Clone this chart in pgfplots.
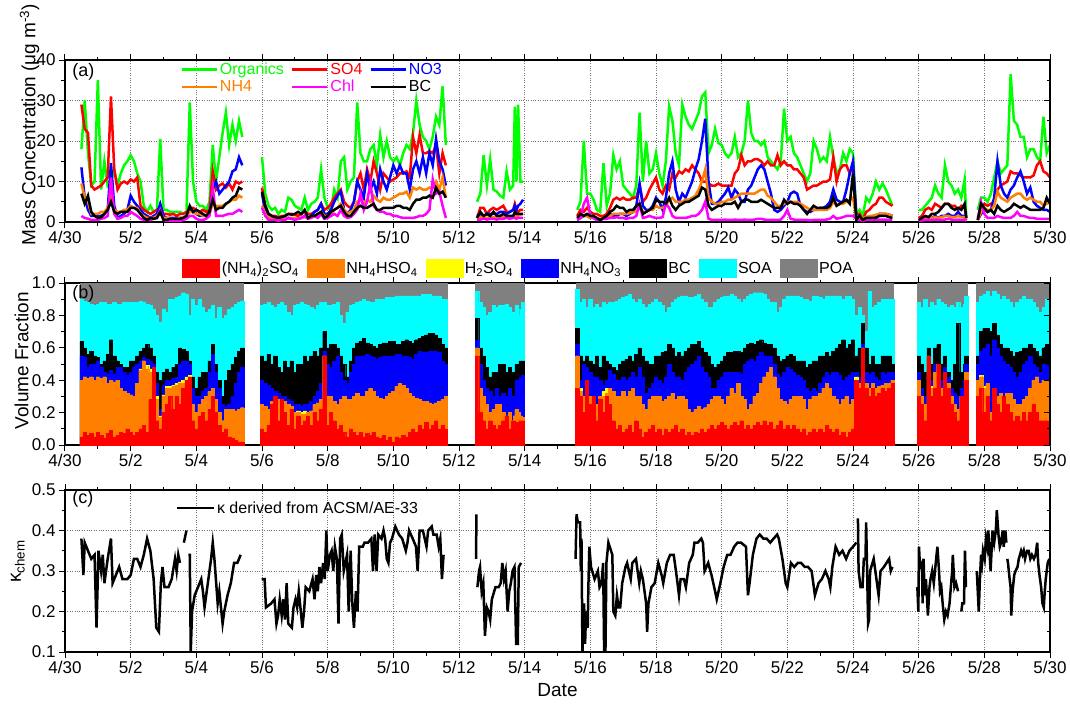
\documentclass[border=0pt]{standalone}
\usepackage{fontspec}
\setmainfont{Liberation Sans}
\usepackage{pgfplots}
\usepackage{pgfplotstable}
\pgfplotsset{compat=1.18}

\definecolor{cOrg}{RGB}{0,255,0}
\definecolor{cSO}{RGB}{255,0,0}
\definecolor{cNO}{RGB}{0,0,255}
\definecolor{cNH}{RGB}{255,128,0}
\definecolor{cChl}{RGB}{255,0,255}
\definecolor{cSA}{RGB}{255,255,0}
\definecolor{cSOA}{RGB}{0,255,255}
\definecolor{cPOA}{RGB}{128,128,128}

% t in days after 4/30 00:00; org..bc in ug/m3; c1..c6 cumulative volume fractions
% c1=(NH4)2SO4, c2=+NH4HSO4, c3=+H2SO4, c4=+NH4NO3, c5=+BC, c6=+SOA (POA fills to 1)
\pgfplotstableread{
t org so4 no3 nh4 chl bc c1 c2 c3 c4 c5 c6
0.5 18 29 13.5 9.5 1.5 7 .05 .40 .40 .55 .64 .90
0.6 30 23 6 6 1 4.5 .08 .42 .42 .54 .60 .89
0.7 17 22 3 5 0.8 6.5 .06 .41 .41 .48 .56 .88
0.8 9 9 1.5 2 0.5 2.5 .07 .42 .42 .50 .58 .87
0.9 10 8 1.5 2 0.5 1.5 .05 .40 .40 .50 .55 .86
1.0 35 8.5 1.5 2 0.5 1 .08 .42 .42 .52 .54 .87
1.1 8 9 1.5 2.5 0.8 1.2 .06 .41 .41 .48 .50 .88
1.2 15 10 2 2.5 1 2 .04 .42 .42 .45 .52 .88
1.3 9 11 3 3.5 1.5 3 .07 .38 .38 .44 .56 .87
1.4 10 31 14.5 6.5 11 5 .09 .40 .40 .46 .65 .87
1.5 13 13 4 3 2 2.5 .05 .39 .39 .44 .55 .88
1.6 9 8 1 2.5 0.8 2 .06 .40 .40 .48 .52 .87
1.7 12 9.5 1.5 2.5 1 2.5 .08 .35 .35 .48 .50 .87
1.8 14 10 2 3 1.5 2.5 .07 .33 .33 .45 .48 .88
1.9 15 9.5 3 3 1.5 2.5 .10 .32 .32 .43 .48 .88
2.0 16.5 10.5 6.5 4 2.5 3.5 .08 .31 .31 .45 .52 .88
2.1 15 10 5 3.5 2 3.5 .06 .30 .30 .48 .52 .88
2.2 12 11 4 3.5 1.5 3 .08 .38 .38 .50 .55 .88
2.3 10 4 3 2 0.8 2 .10 .46 .47 .52 .58 .89
2.4 4 3 2 1.5 0.5 1 .12 .52 .52 .54 .60 .88
2.5 2.5 2.5 1.5 1 0.5 0.5 .08 .47 .49 .53 .62 .87
2.6 4 2 1 1 0.5 1 .28 .45 .47 .52 .60 .86
2.7 2.5 2.5 1.5 1 0.8 0.8 .48 .48 .48 .50 .55 .84
2.8 3 3 2 1.5 1 1 .15 .28 .30 .38 .45 .80
2.9 20.5 3.5 4.5 2.5 3 2.5 .10 .17 .18 .22 .40 .76
3.0 3 2 1.5 1 0.5 0.5 .20 .30 .31 .37 .45 .84
3.1 3 2 1 1 0.3 0.5 .25 .35 .36 .40 .47 .82
3.2 2.5 1.8 1 0.8 0.3 0.8 .30 .35 .36 .40 .45 .90
3.3 2.5 2 1 0.8 0.3 0.8 .22 .36 .37 .41 .48 .90
3.4 2.5 1.5 1 0.8 0.3 0.8 .30 .37 .38 .42 .50 .91
3.5 2.5 2 1 1 0.3 0.8 .25 .38 .39 .50 .60 .92
3.6 2 2 1 1 0.5 1 .35 .38 .40 .52 .59 .94
3.7 2.5 2.5 1.5 1.5 0.8 1.5 .40 .40 .42 .52 .58 .93
3.8 29.5 3 3 2.5 1.5 4 .42 .42 .43 .50 .52 .80
3.9 10 3.5 2.5 2.5 1.5 2.5 .15 .25 .25 .35 .42 .90
4.0 5 3 2 2 0.8 3 .10 .20 .20 .30 .35 .86
4.1 4 2.5 1.5 2 0.5 2.5 .18 .25 .25 .30 .42 .90
4.2 4 3 1.5 1.5 0.5 2 .20 .28 .28 .33 .45 .85
4.3 3 2.5 1.5 1.5 0.8 1.5 .15 .30 .30 .35 .45 .82
4.4 5 3 2 2 1.5 2.5 .22 .33 .33 .45 .52 .84
4.5 19 12.5 8 4.5 8.5 5.5 .30 .35 .35 .56 .62 .86
4.6 10 8 10 4 1.5 3 .20 .28 .28 .45 .50 .78
4.7 16 9 7 4 1.5 3.5 .12 .20 .20 .35 .40 .85
4.8 22 9.5 8 4 1.5 3.5 .08 .15 .15 .25 .30 .78
4.9 27 8.5 9 4.5 1.8 4.5 .10 .22 .22 .24 .40 .80
5.0 19 9.5 10 5 2 5 .05 .22 .22 .25 .46 .84
5.1 24 8 12.5 5.5 2 6 .04 .22 .22 .30 .50 .85
5.2 20 10 13 5.5 2.5 6.5 .03 .21 .21 .38 .54 .87
5.3 25 9.5 16 6.5 3 8.5 .02 .22 .22 .45 .58 .88
5.4 21 10 14 6 2.5 8 .02 .23 .23 .48 .60 .89
5.7 nan nan nan nan nan nan nan nan nan nan nan nan
6.0 16 8.5 7 4 3.5 7.5 .10 .25 .25 .40 .55 .86
6.1 7 4 2.5 2 1.5 4 .08 .24 .24 .38 .52 .87
6.2 4 2 1 1 0.5 2 .12 .22 .22 .37 .56 .88
6.3 3 1.5 0.8 0.8 0.5 1.5 .25 .27 .27 .35 .50 .86
6.4 3.5 1.5 0.6 0.8 0.5 1.2 .30 .30 .30 .33 .55 .85
6.5 2 1.2 0.5 0.6 0.3 1 .15 .28 .28 .32 .48 .87
6.6 3 1.5 0.6 0.8 0.5 1.2 .28 .28 .28 .30 .45 .88
6.7 2.5 1.5 0.8 0.8 0.5 1.5 .20 .27 .27 .30 .52 .86
6.8 6 2 1 1 1 2 .12 .25 .25 .28 .48 .82
6.9 5.5 2 0.8 1 0.8 1.8 .22 .24 .24 .27 .52 .80
7.0 4 1.8 0.8 1 0.5 2 .10 .20 .20 .25 .45 .86
7.1 3.5 1.5 0.8 0.8 0.8 2.5 .18 .20 .21 .25 .50 .87
7.2 3 2 1 1 1 2 .12 .19 .20 .24 .50 .88
7.3 6 2.5 1.5 1.2 1.5 3 .15 .19 .21 .25 .55 .87
7.4 3 2 1 1 0.8 1 .18 .20 .20 .25 .52 .86
7.5 4.5 2 1.5 1.2 1 1.5 .12 .21 .21 .27 .55 .85
7.6 5 2.5 2.5 1.5 1.5 1.5 .20 .25 .25 .30 .58 .84
7.7 6 3 3 2 1 2 .15 .26 .26 .33 .55 .86
7.8 13 4.5 4.5 2.5 2 2.5 .22 .28 .28 .38 .60 .88
7.9 6 3 2 1.5 0.8 1 .55 .55 .55 .58 .70 .88
8.0 3.5 3.5 2 1.5 1 1.5 .12 .30 .30 .50 .60 .86
8.1 3 4.5 3 2 1.5 2.5 .20 .30 .30 .48 .62 .86
8.2 8 6 5 3 2 3 .15 .27 .27 .52 .62 .87
8.3 6 7 6.5 3.5 1.5 3.5 .10 .25 .25 .55 .60 .88
8.4 15 8 7.5 4.5 3 4 .12 .28 .28 .45 .55 .80
8.5 16 5 3 3 1.5 2.5 .08 .30 .30 .40 .50 .75
8.6 8 4 2 2 1 1.5 .05 .28 .28 .38 .42 .82
8.7 10 3.5 3 2.5 1.2 1.5 .10 .28 .28 .45 .52 .86
8.8 11 5 5 3 2 2.5 .08 .30 .30 .50 .60 .87
8.9 29.5 10 10 5 3 3.5 .06 .32 .32 .55 .63 .88
9.0 17 12 8 5.5 7 4 .08 .30 .30 .55 .64 .89
9.1 15 8 6 4.5 3 3.5 .05 .30 .30 .55 .66 .90
9.2 15 13 12 5.5 5 3.5 .07 .33 .33 .56 .63 .89
9.3 18 10 8 5 9.5 4 .06 .35 .35 .55 .62 .88
9.4 19 15 10 6.5 4 4.5 .08 .33 .33 .54 .61 .88
9.5 14 12 7 5.5 3 3 .05 .30 .30 .53 .60 .90
9.6 21.5 8 13 5 2.5 3 .04 .29 .29 .54 .62 .90
9.7 16 12 10 6 2.5 3.5 .06 .28 .28 .55 .63 .90
9.8 20 11 8 5.5 2 3.5 .03 .30 .30 .55 .63 .91
9.9 16 10 11 5.5 2 3.5 .05 .32 .32 .55 .64 .91
10.0 15 10.5 14 6 1.5 3.5 .02 .33 .33 .55 .64 .91
10.1 16 11 12 6.5 1.5 4 .05 .36 .36 .56 .62 .92
10.2 14 12 14 7 1.2 4 .04 .38 .38 .56 .62 .92
10.3 17 12 12 7 1 3.5 .06 .37 .37 .55 .64 .92
10.4 19 12.5 12 7.5 1 3.5 .05 .35 .35 .55 .65 .92
10.5 18 11 8 6 1 3 .08 .32 .32 .54 .64 .92
10.6 22 21 13 8.5 1 4.5 .10 .30 .30 .53 .63 .92
10.7 30 17 15 8 1.2 5.5 .08 .29 .29 .56 .65 .92
10.8 24 21.5 12 8.5 1.5 5.5 .12 .28 .28 .58 .66 .92
10.9 21 17 16 8 1.5 6 .10 .27 .27 .57 .67 .93
11.0 20 17 12 8 2 6 .14 .27 .27 .57 .68 .93
11.1 18 17.5 17 8.5 3 6.5 .10 .26 .26 .58 .69 .93
11.2 21 17 14 8.5 10.5 6 .12 .25 .25 .58 .69 .92
11.3 26 19 20.5 10 7 8.5 .15 .26 .26 .58 .68 .92
11.4 24 12 15 8 7.5 7 .10 .27 .27 .57 .66 .92
11.5 33.5 17 13 11 4 7.5 .12 .28 .28 .52 .62 .90
11.6 19 14 9 6 1 6 .10 .30 .30 .50 .60 .90
12.0 nan nan nan nan nan nan nan nan nan nan nan nan
12.55 5 1 1.5 1 0.5 1 .55 .60 .60 .65 .78 .95
12.65 7 3.5 2 1.2 0.6 2.5 .20 .35 .35 .50 .60 .88
12.75 16.5 3.5 1.5 1.2 0.8 1.5 .15 .30 .30 .40 .55 .85
12.85 9 2 2 1 0.6 2 .10 .25 .25 .35 .48 .80
12.95 15.5 3 2 1.2 0.8 1.5 .15 .20 .20 .33 .42 .82
13.05 8 3.5 2 1.2 0.8 2.5 .12 .22 .22 .30 .45 .86
13.15 7.5 3 2 1 0.6 1.5 .10 .25 .25 .35 .45 .85
13.25 6.5 3.5 2.5 1.2 0.8 1.5 .12 .25 .25 .30 .50 .86
13.35 6 4 2.5 1.2 0.8 2 .15 .20 .20 .32 .50 .86
13.45 12.5 2.5 2 1.2 1 1.5 .18 .18 .18 .30 .45 .87
13.55 8 2.5 2.5 1.2 0.8 1.5 .10 .20 .20 .35 .48 .85
13.65 9 3 3 1.5 1 1.5 .15 .15 .15 .30 .45 .82
13.70 28.5 4.5 4 1.8 1 2.5 .12 .18 .18 .30 .45 .75
13.75 10 3 3 1.5 0.8 2 .12 .22 .22 .40 .50 .86
13.80 29 2.5 4 1.5 1 2 .14 .20 .20 .40 .50 .84
13.87 10 3 4.5 1.8 1 2 .15 .18 .18 .42 .52 .80
13.95 10 3 5.5 2 1 2 .15 .17 .17 .43 .52 .88
14.5 nan nan nan nan nan nan nan nan nan nan nan nan
15.6 3 1.5 0.5 1 0.5 1 .35 .55 .55 .62 .72 .96
15.7 5 3 1 1.2 1 2 .30 .33 .35 .40 .55 .88
15.8 20 2.5 1.5 1.5 4.5 1.5 .20 .30 .30 .50 .52 .90
15.9 7 3.5 1.5 1.5 6 2 .40 .40 .40 .48 .55 .85
16.0 7 2.5 1 1 1.5 1.5 .25 .30 .30 .45 .52 .90
16.1 5.5 2 1 1 1 1.5 .30 .30 .30 .42 .50 .85
16.2 3 2 0.5 0.8 0.5 1 .15 .25 .25 .42 .55 .87
16.3 2.5 1.5 0.5 0.8 0.5 0.5 .28 .30 .30 .40 .48 .85
16.4 14.5 1.5 1 1 0.8 1 .20 .30 .33 .37 .55 .88
16.5 4 2 1.5 1.2 0.8 1.5 .30 .32 .35 .40 .52 .87
16.6 7 3.5 2 1.5 1 2.5 .25 .35 .35 .46 .50 .88
16.7 16.5 5.5 1.5 2 1 3 .15 .33 .33 .44 .48 .88
16.8 13 6 1.5 2 1.2 4 .10 .30 .30 .40 .46 .89
16.9 15 5.5 2 2 1 3.5 .12 .30 .30 .40 .50 .90
17.0 9 6 2 2 1 3.5 .08 .33 .33 .42 .52 .91
17.1 8 5.5 1.5 2 0.8 2.5 .10 .30 .30 .40 .53 .92
17.2 7 5.5 2 2.2 1 3 .12 .33 .33 .42 .55 .93
17.3 6 6 2.5 2.5 1 3 .08 .35 .35 .45 .52 .90
17.4 9 6 4 2.5 1.5 4 .15 .30 .30 .42 .56 .88
17.5 27 9 9.5 4 4.5 4.5 .10 .30 .30 .48 .60 .90
17.6 10 5 4 2.5 1 2 .05 .25 .25 .42 .55 .87
17.7 20 6 3 2.5 1.2 2.5 .08 .22 .22 .32 .52 .85
17.8 12 8 3 3 1.5 3 .10 .28 .28 .35 .50 .87
17.9 13 9.5 4 3 1.2 3.5 .12 .30 .30 .38 .50 .88
18.0 17 11 6 4 1 5.5 .08 .30 .30 .42 .55 .90
18.1 12 8 5 3.5 1 5 .10 .30 .30 .40 .55 .88
18.2 9 7 3 3.5 1.2 5 .06 .27 .27 .38 .57 .86
18.3 15 9 6 4 4.5 4.5 .10 .28 .28 .42 .58 .82
18.4 28.5 8 12 5.5 3.5 6 .08 .30 .30 .50 .62 .85
18.5 25 12 15 6 1.5 4 .10 .32 .32 .45 .60 .88
18.6 17 11 8 5 1 3 .12 .28 .28 .42 .55 .90
18.7 14 12.5 5 5 1 4 .08 .30 .30 .42 .57 .91
18.8 29 12 7 5 1 4.5 .10 .30 .30 .40 .55 .92
18.9 26 13 6 5.5 1 5 .06 .28 .28 .45 .58 .92
19.0 24 12.5 8 5.5 1.2 5 .08 .22 .22 .48 .60 .91
19.1 23 14 10 6 1.5 5.5 .06 .20 .20 .50 .62 .91
19.2 25 13 13 6.5 1.5 6 .08 .22 .22 .52 .62 .92
19.3 27 12 15.5 8 2 6.5 .07 .24 .24 .55 .64 .93
19.4 31 10 20 10 3 8.5 .10 .22 .22 .48 .60 .90
19.5 32 10 25.5 13 5 8 .08 .23 .23 .45 .57 .88
19.6 17 9.5 10 6 0.8 4 .10 .25 .25 .42 .55 .85
19.7 19 9 4.5 5 0.5 3 .12 .28 .28 .35 .50 .85
19.8 23 9 4.5 4.5 0.5 3.5 .10 .30 .30 .35 .48 .88
19.9 19.5 9.5 5 4.5 0.5 4 .12 .30 .30 .40 .50 .90
20.0 19 9 6 5 0.5 4 .14 .28 .28 .42 .52 .91
20.1 17 9 7 5 0.6 4.5 .12 .25 .25 .45 .55 .92
20.2 16 9 8.5 5.5 0.5 4.5 .10 .30 .30 .45 .57 .92
20.3 17 9 6 5.5 0.5 4.5 .12 .35 .35 .45 .57 .93
20.4 21 12 8 6 0.6 5 .14 .32 .32 .45 .58 .92
20.5 16 13 7 6.5 0.5 3.5 .12 .38 .38 .45 .58 .90
20.6 17 16.5 5 7 0.5 5 .15 .30 .30 .44 .57 .88
20.7 20 14 5 7 0.6 5.5 .10 .28 .28 .50 .60 .90
20.8 30 15 8 7 0.5 5.5 .12 .22 .22 .52 .62 .92
20.9 22 15 9 7 0.5 5 .10 .25 .25 .53 .63 .93
21.0 20 15.5 11 7 0.6 5 .12 .30 .30 .52 .62 .94
21.1 20 15.5 13 7.5 0.8 5 .14 .32 .32 .55 .64 .94
21.2 19 15 14 8 0.8 5.5 .12 .38 .38 .57 .65 .94
21.3 20 14 13 8 0.6 5 .15 .42 .42 .55 .63 .93
21.4 16 15 10 6.5 0.5 4.5 .12 .45 .45 .55 .62 .90
21.5 15 14 7 6 0.5 4 .14 .48 .48 .55 .62 .88
21.6 14 14 3 5 0.5 3.5 .10 .42 .42 .50 .60 .88
21.7 13 16.5 2.5 4 0.5 3.5 .12 .35 .35 .44 .55 .82
21.8 15 14 3 4 0.6 3.5 .15 .28 .28 .42 .52 .85
21.9 28 15 4 4.5 1.5 5.5 .10 .27 .27 .45 .53 .90
22.0 20 14 5 5 3 4.5 .12 .25 .25 .48 .55 .92
22.1 21 14 7 5 0.8 5 .10 .28 .28 .47 .56 .92
22.2 17 13 7.5 5 0.6 4.5 .12 .30 .30 .45 .55 .92
22.3 16 13 7 5 0.5 4.5 .10 .30 .30 .43 .52 .92
22.4 14 12 4 4.5 0.5 4 .08 .30 .30 .42 .52 .91
22.5 12 11 3 4 0.5 3 .10 .28 .28 .40 .52 .90
22.6 10 8 2.5 3.5 0.5 2 .06 .22 .22 .35 .48 .90
22.7 12 8.5 2.5 3 0.4 3 .08 .28 .28 .33 .50 .89
22.8 20 9 3 3 0.5 4 .10 .30 .30 .35 .52 .92
22.9 18 9 3 3 0.5 3.5 .08 .30 .30 .33 .52 .92
23.0 15 9.5 3.5 3 0.5 3.5 .10 .32 .32 .38 .55 .91
23.1 16 10 3.5 3 0.5 3.5 .08 .35 .35 .42 .55 .90
23.2 15 10 4 3 0.6 3.5 .12 .38 .38 .45 .57 .92
23.3 21 10.5 5 3.5 0.8 4 .10 .35 .35 .43 .55 .92
23.4 16 16 8 5 1.5 6 .08 .30 .30 .45 .58 .92
23.5 12 10 5.5 4 0.8 4 .10 .28 .28 .45 .60 .92
23.6 13 13 5 4.5 1 4.5 .06 .25 .25 .43 .62 .92
23.7 17 14 5 4.5 1.2 5 .08 .28 .28 .40 .65 .90
23.8 15 14 8 5 1.5 5.5 .05 .30 .30 .42 .60 .92
23.9 18 12 12 5.5 1.5 4.5 .08 .25 .25 .43 .62 .92
24.0 17 14 15 6 1.5 12 .10 .28 .28 .45 .65 .90
24.1 2 1.5 1.5 1 0.8 0.5 .40 .40 .42 .45 .55 .80
24.2 3 2 1.5 1.5 0.5 1.5 .35 .38 .38 .42 .60 .85
24.3 1.5 0.5 1 1 0.3 0.5 .60 .60 .60 .62 .75 .80
24.4 6 2.5 1 1.2 0.5 1 .35 .38 .38 .45 .60 .70
24.5 5 3 1.2 1.5 0.5 1 .30 .35 .35 .44 .50 .95
24.6 7 4 1.5 1.5 0.5 1 .35 .38 .38 .45 .55 .85
24.7 10 4.5 1.5 1.8 0.5 1 .30 .35 .35 .42 .50 .86
24.8 8 6 2 2 0.6 1.5 .32 .36 .36 .40 .50 .88
24.9 9.5 6 2 2 0.6 1.5 .35 .37 .37 .45 .55 .90
25.0 8 5 2 2 0.6 1.5 .33 .38 .38 .44 .55 .90
25.1 6 4.5 1.8 1.8 0.5 1.2 .35 .38 .38 .45 .55 .90
25.2 4 4 1.5 1.5 0.5 1 .38 .40 .40 .45 .50 .90
25.6 nan nan nan nan nan nan nan nan nan nan nan nan
26.0 3 1 0.5 0.5 0.3 0.5 .30 .40 .40 .45 .55 .88
26.1 3 1.5 0.5 0.6 0.4 1 .25 .30 .30 .35 .50 .85
26.2 4 3 0.8 0.8 0.5 1.5 .15 .25 .25 .30 .45 .90
26.3 5 3.5 1 1 0.5 1.2 .55 .55 .55 .55 .60 .85
26.4 6 3 1 1 0.5 2 .30 .35 .36 .40 .50 .88
26.5 9 4.5 1.5 1.2 0.6 2 .35 .45 .45 .50 .60 .86
26.6 7 4 1 1 0.5 2.5 .50 .50 .50 .50 .62 .90
26.7 6 3.5 1.5 1.2 0.5 3.5 .30 .35 .35 .40 .50 .88
26.8 14 4.5 1.5 1.5 0.6 4.5 .45 .45 .45 .48 .55 .87
26.9 10 4.5 2 1.5 0.8 4.5 .35 .38 .38 .42 .45 .85
27.0 9 4 1.5 1.2 0.6 3.5 .25 .30 .30 .35 .40 .86
27.1 7 4 1.5 1.2 0.5 3 .20 .25 .25 .32 .50 .85
27.2 8 3 2.5 1.5 0.6 3.5 .15 .22 .22 .30 .75 .88
27.3 6 4 1.5 1.2 0.5 3 .30 .30 .30 .35 .45 .85
27.4 10.5 3.5 1.5 1.2 0.6 4.5 .20 .30 .30 .40 .50 .87
27.45 1 1 0.5 0.5 0.3 1 .40 .45 .45 .50 .55 .92
27.6 nan nan nan nan nan nan nan nan nan nan nan nan
27.8 3 1 0.5 0.5 0.5 0.5 .30 .40 .40 .50 .55 .88
27.9 6 4 2 2.5 5 4.5 .35 .42 .43 .58 .70 .92
28.0 6 4.5 3 3 2 3.5 .20 .35 .36 .60 .72 .93
28.1 5 4 2.5 3 1 2.5 .30 .38 .38 .62 .72 .95
28.2 7 4.5 3 3 1 3 .15 .20 .20 .55 .70 .92
28.3 11 5 6 4 1 2 .35 .35 .35 .65 .75 .95
28.4 15 8 15 7.5 1.5 4 .25 .30 .30 .60 .68 .93
28.5 12 9 9 6 1.2 3 .20 .32 .32 .55 .62 .90
28.6 13 9.5 7 5.5 1 2.5 .30 .30 .30 .52 .60 .92
28.7 14 10 6 5 1 3 .25 .32 .32 .50 .60 .90
28.8 36.5 12.5 8 6 1 3.5 .20 .32 .32 .48 .58 .88
28.9 25 12 9 6.5 1.5 4.5 .15 .28 .28 .45 .55 .85
29.0 24 12 11 7 2.5 4 .18 .25 .25 .42 .57 .88
29.1 21 11.5 12.5 7 1.5 3.5 .15 .25 .25 .45 .58 .90
29.2 21 11 10 6 1.5 4 .20 .28 .28 .50 .60 .92
29.3 16 11 7 5.5 1.2 3.5 .15 .30 .30 .52 .60 .90
29.4 18 11 8.5 6 1 3 .20 .35 .35 .55 .62 .90
29.5 18 11.5 5 5.5 1 3 .25 .40 .40 .50 .60 .88
29.6 16 14 4 5 0.8 3 .20 .42 .42 .48 .58 .85
29.7 15 15 3.5 5 0.8 3 .15 .38 .38 .45 .55 .82
29.8 26 12.5 3 4 0.8 3.5 .15 .40 .40 .50 .60 .85
29.9 17 12 3 4.5 0.8 6 .15 .40 .40 .50 .62 .90
30.0 19 11 2.5 5 0.8 4.5 .12 .40 .40 .50 .62 .90
}\aer

\pgfplotstableread{
t k
0.50 .38
0.56 .29
0.60 .37
0.70 .35
0.80 .33
0.90 .34
0.96 .16
1.02 .35
1.10 .30
1.15 .34
1.20 .27
1.30 .33
1.40 .38
1.45 .27
1.55 .29
1.65 .31
1.75 .28
1.90 .28
2.00 .29
2.10 .33
2.20 .33
2.30 .31
2.40 .34
2.45 .36
2.50 .38
2.60 .35
2.70 .28
2.78 .16
2.86 .15
2.92 .27
2.97 .31
3.03 .26
3.15 .26
3.25 .28
3.35 .33
3.40 .30
3.45 .34
3.50 .32
3.56 nan
3.62 .37
3.70 .40
3.73 nan
3.76 .34
3.80 .34
3.83 .10
3.87 .20
3.95 .24
4.05 .26
4.15 .28
4.20 .25
4.25 .21
4.35 .27
4.45 .33
4.50 .37
4.55 .33
4.65 .22
4.70 .25
4.80 .17
4.85 .20
4.95 .24
5.05 .27
5.15 .32
5.25 .32
5.35 .34
5.70 nan
5.99 .28
6.08 .28
6.12 .21
6.28 .22
6.38 .23
6.44 .17
6.49 .19
6.54 .23
6.60 .19
6.65 .23
6.70 .18
6.75 .27
6.80 .17
6.91 .16
6.96 .21
7.02 .23
7.07 .21
7.12 .25
7.17 .21
7.23 .16
7.28 .20
7.33 .26
7.44 .25
7.54 .28
7.60 .23
7.65 .29
7.70 .25
7.75 .31
7.80 .27
7.86 .32
7.91 .28
7.96 .40
8.00 .30
8.07 .34
8.12 .35
8.17 .30
8.22 .36
8.28 .33
8.33 .17
8.38 .38
8.43 .39
8.49 .30
8.59 .34
8.64 .20
8.70 .35
8.75 .22
8.80 .16
8.86 .25
8.91 .20
8.96 .36
9.07 .36
9.12 .37
9.23 .37
9.33 .38
9.38 .30
9.43 .39
9.49 .30
9.54 .39
9.64 .38
9.70 .40
9.75 .38
9.80 .33
9.85 .32
9.90 .37
9.96 .38
10.06 .41
10.17 .39
10.27 .38
10.38 .35
10.43 .37
10.48 .40
10.59 .38
10.69 .36
10.74 .30
10.80 .40
10.90 .40
11.01 .36
11.06 .40
11.17 .41
11.22 .39
11.32 .39
11.38 .36
11.43 .38
11.48 .28
11.53 .34
12.00 nan
12.52 .33
12.53 .44
12.54 nan
12.56 .26
12.61 .30
12.64 .31
12.69 .25
12.74 .27
12.79 .14
12.85 .21
12.90 .20
12.95 .18
13.00 .23
13.11 .26
13.21 .26
13.27 .27
13.32 .32
13.37 .28
13.42 .30
13.48 .20
13.53 .25
13.58 .27
13.63 .30
13.69 .31
13.74 .12
13.79 .12
13.82 .31
13.89 .32
14.50 nan
15.55 .33
15.58 .44
15.62 .42
15.69 .42
15.71 .30
15.73 .38
15.76 .10
15.81 .22
15.84 .12
15.87 .20
15.92 .16
15.94 .26
15.97 .36
16.02 .31
16.13 .28
16.23 .30
16.28 .26
16.34 .27
16.39 .32
16.42 .10
16.46 .10
16.49 .32
16.55 .37
16.63 .35
16.67 .34
16.70 .20
16.76 .19
16.81 .24
16.86 .21
16.91 .21
16.97 .27
17.07 .31
17.12 .32
17.23 .28
17.28 .32
17.39 .33
17.49 .27
17.54 .30
17.60 .28
17.70 .22
17.73 .15
17.77 .22
17.86 .26
17.96 .27
18.07 .32
18.17 .29
18.22 .27
18.33 .32
18.43 .34
18.54 .34
18.64 .28
18.70 .24
18.75 .28
18.85 .28
18.91 .26
19.01 .32
19.12 .34
19.17 .37
19.27 .37
19.38 .38
19.43 .37
19.48 .30
19.59 .32
19.69 .29
19.80 .25
19.85 .23
19.96 .27
20.06 .31
20.17 .34
20.27 .34
20.38 .36
20.48 .37
20.59 .37
20.74 .36
20.80 .24
20.85 .27
20.95 .34
21.06 .38
21.16 .39
21.27 .38
21.37 .38
21.48 .37
21.58 .38
21.69 .39
21.74 .38
21.85 .33
21.95 .27
22.00 .26
22.11 .32
22.21 .31
22.32 .32
22.42 .32
22.53 .31
22.63 .31
22.74 .30
22.84 .24
22.95 .27
23.05 .28
23.16 .30
23.26 .28
23.31 .26
23.37 .31
23.47 .36
23.58 .34
23.68 .35
23.79 .33
23.89 .35
24.00 .36
24.10 .37
24.13 nan
24.15 .43
24.17 .30
24.23 .26
24.29 .26
24.33 .33
24.38 .33
24.40 .42
24.43 .30
24.46 .17
24.49 .18
24.52 .30
24.63 .33
24.73 .27
24.78 .24
24.84 .30
24.94 .31
25.10 .33
25.15 .30
25.20 .31
25.50 nan
25.96 .26
25.99 .20
26.01 .36
26.04 .31
26.10 .32
26.12 .22
26.15 .33
26.18 .24
26.22 .28
26.25 .24
26.28 .19
26.33 .26
26.36 .28
26.41 .30
26.46 .27
26.52 .32
26.57 .36
26.62 .30
26.65 .25
26.69 .26
26.73 .22
26.78 .18
26.83 .20
26.88 .19
26.94 .22
26.99 .27
27.02 .30
27.04 .34
27.09 .26
27.14 .27
27.20 .25
27.23 nan
27.30 .20
27.33 .22
27.38 .22
27.41 .35
27.44 .26
27.60 nan
27.77 .30
27.83 .20
27.86 .27
27.90 .34
27.93 .32
27.96 .35
28.01 .33
28.05 .38
28.09 .36
28.12 .40
28.15 .36
28.19 .30
28.25 .40
28.30 .37
28.35 .40
28.38 .45
28.43 .39
28.47 .36
28.51 .37
28.56 .40
28.59 .36
28.64 .40
28.67 .37
28.69 nan
28.70 .33
28.72 .32
28.77 .28
28.80 .26
28.82 .19
28.86 .25
28.91 .29
28.95 .30
29.01 .31
29.05 .33
29.12 .35
29.16 .34
29.20 .35
29.24 .33
29.30 .35
29.35 .35
29.40 .33
29.45 .34
29.51 .33
29.56 .34
29.61 .37
29.64 .32
29.68 .29
29.73 .26
29.77 .22
29.81 .21
29.84 .25
29.87 .28
29.93 .32
29.98 .33
}\kaptab

\pgfplotsset{
  frame/.style={
    scale only axis, width=985pt, height=162pt, anchor=north west,
    xmin=0, xmax=30, minor y tick num=1,
    major tick length=6pt, minor tick length=3.5pt,
    tick style={black, line width=1pt},
    axis line style={black, line width=1.2pt},
  },
  panel/.style={
    frame,
    xtick={0,2,...,30},
    xticklabels={4/30,5/2,5/4,5/6,5/8,5/10,5/12,5/14,5/16,5/18,5/20,5/22,5/24,5/26,5/28,5/30},
    minor x tick num=1,
    tick align=outside, xtick pos=both, ytick pos=left,
    xticklabel pos=lower, yticklabel pos=left,
    tick label style={font=\fontsize{17}{20}\selectfont},
    label style={font=\fontsize{19}{22}\selectfont},
    unbounded coords=jump,
    legend cell align=left,
  },
  % right-hand ticks point inwards, as in the original
  rticks/.style={frame, axis x line=none, axis y line*=right, ytick align=inside, yticklabels={}},
  dotgrid/.style={grid=major, major grid style={dotted, black!55, line width=0.9pt}},
  vf/.style={ybar, bar width=0.1, bar shift=0pt, fill=#1, draw=#1, line width=0.4pt, forget plot},
  poa/.style={fill=cPOA, draw=none, forget plot},
  ser/.style={#1, line width=2.5pt},
}

\begin{document}
\begin{tikzpicture}
\useasboundingbox (0pt,0pt) rectangle (1070pt,-704pt);

% (a) mass concentrations
\begin{axis}[panel, dotgrid, at={(65pt,-60pt)},
  ymin=0, ymax=40, ytick={0,10,20,30,40}, yticklabels={0,10,20,30,40},
  ylabel={Mass Concentration (μg m\textsuperscript{-3})},
  ylabel style={at={(axis description cs:-0.036,0.6)}, anchor=center},
  legend columns=3,
  legend style={at={(axis description cs:0.116,1)}, anchor=north west, draw=none, fill=none,
    font=\fontsize{16}{18}\selectfont, inner sep=1pt,
    /tikz/every even column/.append style={column sep=5pt}},
  legend image code/.code={\draw[#1] (0pt,0pt) -- (35pt,0pt);},
]
\addplot[ser=cOrg] table[x=t, y=org] {\aer};
\addlegendentry{\textcolor{cOrg}{Organics}}
\addplot[ser=cSO] table[x=t, y=so4] {\aer};
\addlegendentry{\textcolor{cSO}{SO4}}
\addplot[ser=cNO] table[x=t, y=no3] {\aer};
\addlegendentry{\textcolor{cNO}{NO3}}
\addplot[ser=cNH] table[x=t, y=nh4] {\aer};
\addlegendentry{\textcolor{cNH}{NH4}}
\addplot[ser=cChl] table[x=t, y=chl] {\aer};
\addlegendentry{\textcolor{cChl}{Chl}}
\addplot[ser=black] table[x=t, y=bc] {\aer};
\addlegendentry{BC}
\node[anchor=west, font=\fontsize{18}{21}\selectfont] at (axis description cs:0.004,0.925) {(a)};
\end{axis}
\begin{axis}[rticks, at={(65pt,-60pt)}, ymin=0, ymax=40, ytick={0,10,20,30,40}]
\end{axis}

% (b) volume fractions (cumulative, painted from the top layer down)
\begin{axis}[panel, at={(65pt,-283pt)},
  ymin=0, ymax=1, ytick={0,0.2,0.4,0.6,0.8,1}, yticklabels={0.0,0.2,0.4,0.6,0.8,1.0},
  ylabel={Volume Fraction},
  ylabel style={at={(axis description cs:-0.044,0.52)}, anchor=center},
  legend columns=7,
  legend style={at={(axis description cs:0.119,1)}, anchor=south west, yshift=5pt,
    draw=none, fill=none, font=\fontsize{16}{18}\selectfont, inner sep=0pt,
    /tikz/every even column/.append style={column sep=6pt}},
  legend image code/.code={\fill[#1] (0pt,-9pt) rectangle (37pt,9pt);},
]
\addplot[poa] coordinates {(0.45,1) (5.45,1)} \closedcycle;
\addplot[poa] coordinates {(5.95,1) (11.65,1)} \closedcycle;
\addplot[poa] coordinates {(12.5,1) (14.0,1)} \closedcycle;
\addplot[poa] coordinates {(15.55,1) (25.25,1)} \closedcycle;
\addplot[poa] coordinates {(25.95,1) (27.5,1)} \closedcycle;
\addplot[poa] coordinates {(27.75,1) (30,1)} \closedcycle;
\addplot[vf=cSOA] table[x=t, y=c6] {\aer};
\addplot[vf=black] table[x=t, y=c5] {\aer};
\addplot[vf=cNO] table[x=t, y=c4] {\aer};
\addplot[vf=cSA] table[x=t, y=c3] {\aer};
\addplot[vf=cNH] table[x=t, y=c2] {\aer};
\addplot[vf=cSO] table[x=t, y=c1] {\aer};
\addlegendimage{cSO}
\addlegendentry{(NH\textsubscript{4})\textsubscript{2}SO\textsubscript{4}}
\addlegendimage{cNH}
\addlegendentry{NH\textsubscript{4}HSO\textsubscript{4}}
\addlegendimage{cSA}
\addlegendentry{H\textsubscript{2}SO\textsubscript{4}}
\addlegendimage{cNO}
\addlegendentry{NH\textsubscript{4}NO\textsubscript{3}}
\addlegendimage{black}
\addlegendentry{BC}
\addlegendimage{cSOA}
\addlegendentry{SOA}
\addlegendimage{cPOA}
\addlegendentry{POA}
\node[anchor=west, font=\fontsize{18}{21}\selectfont] at (axis description cs:0.004,0.935) {(b)};
\end{axis}
\begin{axis}[rticks, at={(65pt,-283pt)}, ymin=0, ymax=1, ytick={0,0.2,0.4,0.6,0.8,1}]
\end{axis}

% (c) hygroscopicity
\begin{axis}[panel, dotgrid, at={(65pt,-490pt)},
  ymin=0.1, ymax=0.5, ytick={0.1,0.2,0.3,0.4,0.5}, yticklabels={0.1,0.2,0.3,0.4,0.5},
  xlabel={Date},
  xlabel style={at={(axis description cs:0.5,0)}, yshift=-38pt, anchor=center},
  ylabel={κ\textsubscript{chem}},
  ylabel style={at={(axis description cs:-0.048,0.56)}, anchor=center},
  legend style={at={(axis description cs:0.109,0.955)}, anchor=north west, draw=none, fill=none,
    font=\fontsize{16}{18}\selectfont},
  legend image code/.code={\draw[#1] (0pt,0pt) -- (37pt,0pt);},
]
\addplot[ser=black] table[x=t, y=k] {\kaptab};
\addlegendentry{κ derived from ACSM/AE-33}
\node[anchor=west, font=\fontsize{18}{21}\selectfont] at (axis description cs:0.004,0.945) {(c)};
\end{axis}
\begin{axis}[rticks, at={(65pt,-490pt)}, ymin=0.1, ymax=0.5, ytick={0.1,0.2,0.3,0.4,0.5}]
\end{axis}
\end{tikzpicture}
\end{document}
